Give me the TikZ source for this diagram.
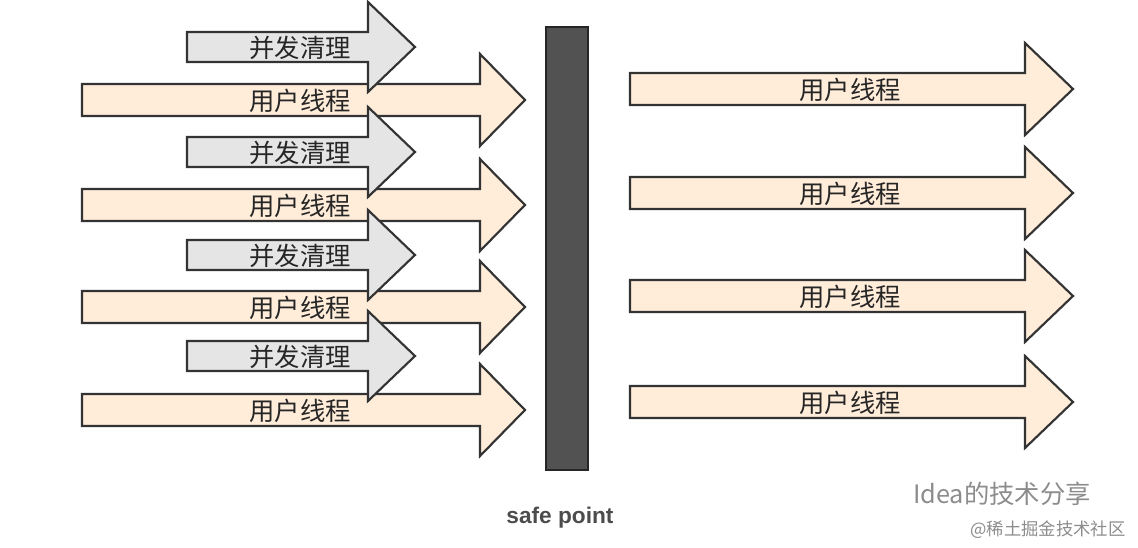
\documentclass[tikz,border=0pt]{standalone}
\usepackage{fontspec}
\setsansfont{Liberation Sans}
\newfontfamily\cjk{Noto Sans CJK SC}
\begin{document}
\begin{tikzpicture}[x=0.75pt,y=-0.75pt,
  arr/.style={draw=black!80,line width=1.6pt,line join=miter},
  user/.style={arr,fill=orange!15!white},
  gc/.style={arr,fill=black!10},
  lbl/.style={font=\cjk\fontsize{19}{19}\selectfont,text=black!85}]
\useasboundingbox (0,0) rectangle (1138,548);
\foreach \c/\n in {100/1,205/2,307/3,410/4}{
  \draw[user] (82,\c-16) -- (480,\c-16) -- (480,\c-46) -- (525,\c) -- (480,\c+46) -- (480,\c+16) -- (82,\c+16) -- cycle;
  \node[lbl] (u\n) at (300,\c+1) {用户线程};
}
\foreach \c/\n in {47/1,152/2,255/3,356/4}{
  \draw[gc] (187,\c-15) -- (368,\c-15) -- (368,\c-45) -- (415,\c) -- (368,\c+45) -- (368,\c+15) -- (187,\c+15) -- cycle;
  \node[lbl] (g\n) at (300,\c+1) {并发清理};
}
\foreach \c/\n in {89/1,193/2,296/3,402/4}{
  \draw[user] (630,\c-16) -- (1025,\c-16) -- (1025,\c-46) -- (1073,\c) -- (1025,\c+46) -- (1025,\c+16) -- (630,\c+16) -- cycle;
  \node[lbl] (r\n) at (850,\c+1) {用户线程};
}
\draw[fill=black!68,draw=black!85,line width=1pt] (546,27) rectangle (588,470);
\node[font=\sffamily\bfseries\fontsize{17}{17}\selectfont,text=black!70] (sp) at (560,518) {safe point};
\node[font=\cjk\fontsize{19}{19}\selectfont,text=black!45] (wm) at (1002,494) {Idea的技术分享};
\node[font=\cjk\fontsize{13}{13}\selectfont,text=black!45] (wm2) at (1048,530) {@稀土掘金技术社区};
\end{tikzpicture}
\end{document}
